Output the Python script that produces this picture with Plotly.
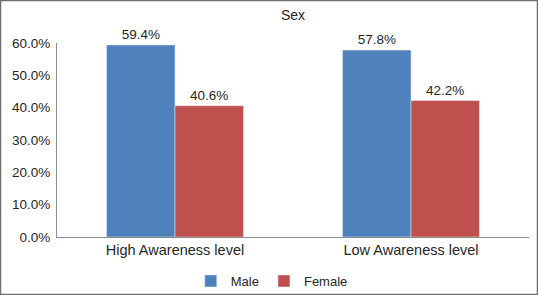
import plotly.graph_objects as go

categories = ["High Awareness level", "Low Awareness level"]
male = [59.4, 57.8]
female = [40.6, 42.2]
y_ticks = [0, 10, 20, 30, 40, 50, 60]
y_tick_labels = ["0.0%", "10.0%", "20.0%", "30.0%", "40.0%", "50.0%", "60.0%"]

W, H = 538, 295
ml, mr, mt, mb = 57, 9, 43, 58
pw, ph = W - ml - mr, H - mt - mb

fam = "Liberation Sans, Arial, sans-serif"
col = "#262626"
f13 = dict(family=fam, size=13.5, color=col)
f14 = dict(family=fam, size=14.5, color=col)

fig = go.Figure()
fig.add_trace(go.Bar(x=categories, y=male, name="Male", marker_color="#4F81BD",
                     text=[f"{v:.1f}%" for v in male], textposition="outside",
                     textfont=f13, cliponaxis=False))
fig.add_trace(go.Bar(x=categories, y=female, name="Female", marker_color="#C0504D",
                     text=[f"{v:.1f}%" for v in female], textposition="outside",
                     textfont=f13, cliponaxis=False))

fig.update_layout(
    width=W, height=H,
    margin=dict(l=ml, r=mr, t=mt, b=mb, autoexpand=False),
    paper_bgcolor="white", plot_bgcolor="white",
    font=f13,
    barmode="group", bargap=0.42, bargroupgap=0,
    title=dict(text="Sex", x=(ml + pw / 2) / W, xanchor="center", y=1 - 15 / H, yanchor="middle",
               font=dict(family=fam, size=14, color=col)),
    legend=dict(orientation="h", x=0.455, xanchor="center", y=-(281 - mt - ph) / ph, yanchor="middle",
                font=dict(family=fam, size=13, color=col), itemwidth=30, traceorder="normal",
                bgcolor="rgba(0,0,0,0)", tracegroupgap=0),
    xaxis=dict(showline=True, linecolor="#8c8c8c", linewidth=1, ticks="", showgrid=False,
               tickfont=f14, automargin=False),
    yaxis=dict(range=[0, 60], tickvals=y_ticks, ticktext=y_tick_labels, showline=True,
               linecolor="#8c8c8c", linewidth=1, showgrid=False, zeroline=False, ticks="",
               tickfont=f13, automargin=False, ticklabelstandoff=3),
    shapes=[dict(type="rect", xref="paper", yref="paper",
                 x0=(0.5 - ml) / pw, x1=(W - 0.5 - ml) / pw,
                 y0=-(mb - 0.5) / ph, y1=1 + (mt - 0.5) / ph,
                 line=dict(color="#6e6e6e", width=1.5))],
)

fig.write_html("out.html", config={"displayModeBar": False})

# remove the browser's default body margin so the figure sits at the page origin
with open("out.html", "r", encoding="utf-8") as fh:
    html = fh.read()
html = html.replace("<head>", "<head><style>html,body{margin:0;padding:0;overflow:hidden;}</style>", 1)
with open("out.html", "w", encoding="utf-8") as fh:
    fh.write(html)
